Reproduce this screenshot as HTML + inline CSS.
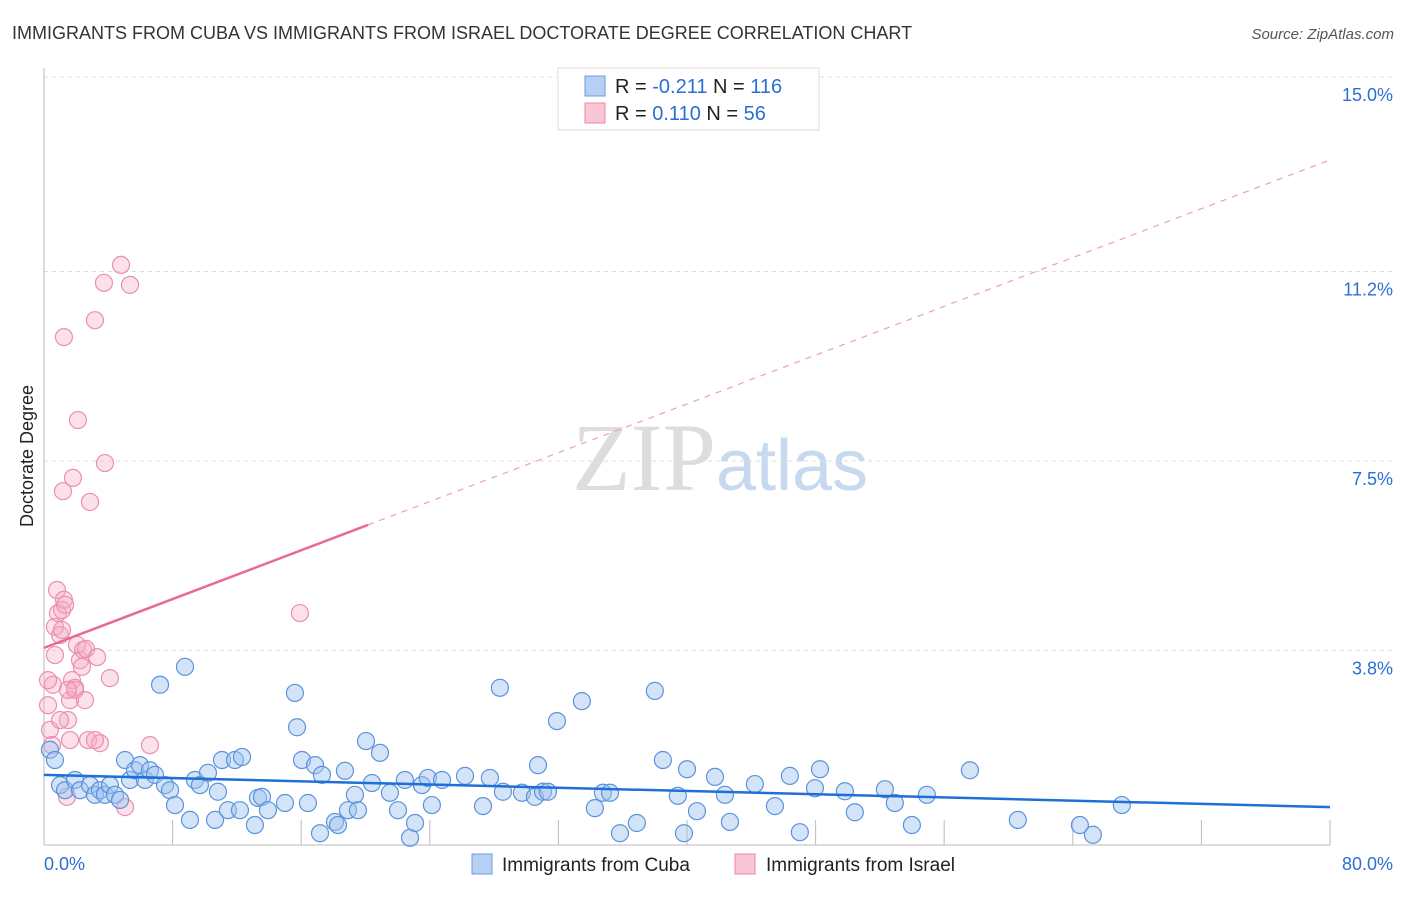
<!DOCTYPE html>
<html><head><meta charset="utf-8"><style>
body{margin:0;background:#fff;font-family:"Liberation Sans",sans-serif;}
</style></head><body>
<svg id="chart" width="1406" height="892" xmlns="http://www.w3.org/2000/svg" font-family="Liberation Sans, sans-serif">
<text x="12" y="39" font-size="18" fill="#333">IMMIGRANTS FROM CUBA VS IMMIGRANTS FROM ISRAEL DOCTORATE DEGREE CORRELATION CHART</text>
<text x="1394" y="39" font-size="15" fill="#555" font-style="italic" text-anchor="end">Source: ZipAtlas.com</text>
<text transform="translate(33,456) rotate(-90)" font-size="18" fill="#222" text-anchor="middle">Doctorate Degree</text>
<text x="720" y="490" font-size="96" text-anchor="middle" fill="#ddd" font-family="Liberation Serif, serif">ZIP<tspan fill="#c6d9ef" font-family="Liberation Sans, sans-serif" font-size="72">atlas</tspan></text>
<g id="grid"></g><g id="axes"></g><g id="pts"></g><g id="lines"></g>
<g>
<rect x="558" y="68" width="261" height="62" fill="#fff" stroke="#ddd"/>
<rect x="585" y="76" width="20" height="20" fill="#b5d0f3" stroke="#6a9be0"/>
<text x="615" y="93" font-size="20" fill="#222">R = <tspan fill="#2a6fd6">-0.211</tspan>   N = <tspan fill="#2a6fd6">116</tspan></text>
<rect x="585" y="103" width="20" height="20" fill="#f9c6d5" stroke="#e98aa8"/>
<text x="615" y="120" font-size="20" fill="#222">R =  <tspan fill="#2a6fd6">0.110</tspan>   N =  <tspan fill="#2a6fd6">56</tspan></text>
</g>
<g>
<rect x="472" y="854" width="20" height="20" fill="#b5d0f3" stroke="#6a9be0"/>
<text x="502" y="871" font-size="19" fill="#222">Immigrants from Cuba</text>
<rect x="735" y="854" width="20" height="20" fill="#f9c6d5" stroke="#e98aa8"/>
<text x="766" y="871" font-size="19" fill="#222">Immigrants from Israel</text>
</g>
</svg>
<script>
const yTicks=[3.8,7.5,11.2,15.0];
const yTickLabels=["3.8%","7.5%","11.2%","15.0%"];
const xLabels=["0.0%","80.0%"];
const cubaX=[0.37,0.68,1.0,1.31,1.93,2.24,2.86,3.17,3.48,3.79,4.1,4.42,4.73,5.04,5.35,5.66,5.97,6.28,6.59,6.9,7.22,7.53,7.84,8.15,8.77,9.08,9.39,9.7,10.2,10.64,10.82,11.07,11.44,11.88,12.19,12.32,13.12,13.31,13.56,13.93,14.99,15.61,15.74,16.05,16.42,16.86,17.17,17.29,18.1,18.29,18.72,18.91,19.34,19.53,20.03,20.4,20.9,21.52,22.02,22.45,22.77,23.08,23.51,23.88,24.13,24.76,26.19,27.31,27.74,28.36,28.55,29.73,30.54,30.73,31.04,31.35,31.91,33.46,34.27,34.77,35.21,35.83,36.88,38.0,38.5,39.43,39.81,40.0,40.62,41.74,42.36,42.67,44.22,45.47,46.4,47.02,47.96,48.27,49.82,50.44,52.31,52.93,53.99,54.92,57.6,60.58,64.44,65.25,67.05];
const cubaY=[1.86,1.66,1.17,1.07,1.27,1.07,1.17,0.98,1.07,0.98,1.17,0.98,0.88,1.66,1.27,1.46,1.56,1.27,1.46,1.37,3.13,1.17,1.07,0.78,3.48,0.49,1.27,1.17,1.41,0.49,1.04,1.66,0.68,1.66,0.68,1.72,0.39,0.92,0.94,0.68,0.82,2.97,2.3,1.66,0.82,1.56,0.23,1.37,0.45,0.39,1.45,0.68,0.98,0.68,2.03,1.21,1.8,1.02,0.68,1.27,0.14,0.43,1.17,1.31,0.78,1.27,1.35,0.76,1.31,3.07,1.04,1.02,0.94,1.56,1.04,1.04,2.42,2.81,0.72,1.02,1.02,0.23,0.43,3.01,1.66,0.96,0.23,1.48,0.66,1.33,0.98,0.45,1.19,0.76,1.35,0.25,1.11,1.48,1.05,0.64,1.09,0.82,0.39,0.98,1.46,0.49,0.39,0.2,0.78];
const israelX=[0.25,0.37,0.5,0.56,0.68,0.68,0.81,0.87,1.0,1.12,1.24,1.31,1.43,1.49,1.62,1.74,1.8,1.93,2.05,2.11,2.24,2.36,2.43,2.55,2.61,2.74,2.86,3.17,3.3,3.48,3.73,3.79,4.1,4.79,5.04,5.35,6.59,15.92,1.24,1.18,1.62,1.0,0.25,3.17,1.93,1.49,1.12];
const israelY=[2.73,2.25,1.95,3.13,4.26,3.71,4.98,4.53,4.1,4.59,4.79,4.69,0.94,2.44,2.83,3.22,7.17,3.07,3.91,8.3,3.61,3.48,3.81,2.83,3.83,2.05,6.7,10.25,3.67,1.99,10.98,7.46,3.26,11.33,0.74,10.94,1.95,4.53,9.92,6.91,2.05,2.44,3.22,2.05,3.03,3.03,4.2];
const cubaTrend=[1.37,0.74];
const israelTrend=[3.85,13.38];
const israelSolidEnd=20.15;
const NS="http://www.w3.org/2000/svg";
const X0=44,X1=1330,Y0=845,Y15=77;
const sx=v=>X0+(v/80)*(X1-X0);
const sy=v=>Y0-(v/15)*(Y0-Y15);
function mk(tag,attrs,parent){const e=document.createElementNS(NS,tag);for(const k in attrs)e.setAttribute(k,attrs[k]);parent.appendChild(e);return e;}
const grid=document.getElementById('grid'),axes=document.getElementById('axes'),pts=document.getElementById('pts'),lines=document.getElementById('lines');
yTicks.forEach((t,i)=>{
 const l=mk('line',{x1:X0,x2:1394,y1:sy(t),y2:sy(t),stroke:'#ddd','stroke-dasharray':'4,4'},grid);
 
 
 const tx=mk('text',{x:1393,y:sy(t)+24,'font-size':18,fill:'#2a6fd6','text-anchor':'end'},grid);
 tx.textContent=yTickLabels[i];
 
 
});
const ax=mk('line',{x1:X0,x2:X0,y1:68,y2:Y0,stroke:'#bbb'},axes);


const bx=mk('line',{x1:X0,x2:X1,y1:Y0,y2:Y0,stroke:'#bbb'},axes);


for(let i=1;i<=10;i++){const t=mk('line',{x1:sx(i*8),x2:sx(i*8),y1:Y0-25,y2:Y0,stroke:'#bbb'},axes);
 
 }
const xl0=mk('text',{x:44,y:870,'font-size':18,fill:'#2a6fd6'},axes);xl0.textContent=xLabels[0];


const xl1=mk('text',{x:1393,y:870,'font-size':18,fill:'#2a6fd6','text-anchor':'end'},axes);xl1.textContent=xLabels[1];


israelX.forEach((v,i)=>{const c=mk('circle',{cx:sx(v),cy:sy(israelY[i]),r:8.5,fill:'rgba(246,170,195,0.35)',stroke:'#eb8fae','stroke-width':1.2},pts);
 
 });
cubaX.forEach((v,i)=>{const c=mk('circle',{cx:sx(v),cy:sy(cubaY[i]),r:8.5,fill:'rgba(160,196,240,0.45)',stroke:'#5b93dc','stroke-width':1.2},pts);
 
 });
const slope=(israelTrend[1]-israelTrend[0])/80;
const pl=mk('line',{x1:sx(0),y1:sy(israelTrend[0]),x2:sx(israelSolidEnd),y2:sy(israelTrend[0]+slope*israelSolidEnd),stroke:'#e86a93','stroke-width':2.5},lines);


const pd=mk('line',{x1:sx(israelSolidEnd),y1:sy(israelTrend[0]+slope*israelSolidEnd),x2:sx(80),y2:sy(israelTrend[1]),stroke:'#eaa0b8','stroke-width':1.2,'stroke-dasharray':'6,6'},lines);


const bl=mk('line',{x1:sx(0),y1:sy(cubaTrend[0]),x2:sx(80),y2:sy(cubaTrend[1]),stroke:'#1f6fd6','stroke-width':2.5},lines);


</script>
</body></html>
